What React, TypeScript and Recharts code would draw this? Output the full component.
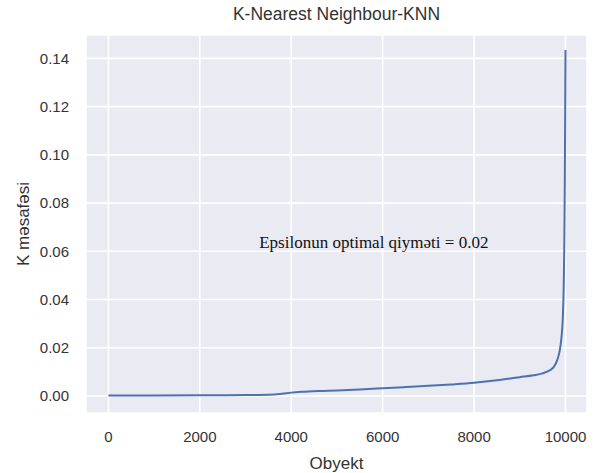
import { LineChart, Line, XAxis, YAxis, CartesianGrid, ReferenceDot } from 'recharts'

// sorted k-distance curve
const objectIndex = [
  0, 1000, 2000, 3000, 3500, 3800, 4000, 4300, 4600, 5000, 5500, 6000, 6500, 7000, 7500, 8000,
  8500, 9000, 9300, 9500, 9650, 9750, 9820, 9870, 9910, 9940, 9960, 9975, 9985, 9992, 9997, 10000,
]
const kDistance = [
  0.0002, 0.0002, 0.0003, 0.0004, 0.0005, 0.0009, 0.0014, 0.0018, 0.0021, 0.0023, 0.0027,
  0.0032, 0.0037, 0.0042, 0.0048, 0.0055, 0.0065, 0.0078, 0.0086, 0.0094, 0.0106, 0.0122,
  0.015, 0.0185, 0.024, 0.032, 0.045, 0.065, 0.09, 0.115, 0.135, 0.1435,
]
const xTicks = [0, 2000, 4000, 6000, 8000, 10000]
const yTicks = [0, 0.02, 0.04, 0.06, 0.08, 0.1, 0.12, 0.14]
const annotation = { x: 3300, y: 0.0612, text: 'Epsilonun optimal qiyməti = 0.02' }

const data = objectIndex.map((x, i) => ({ x, k: kDistance[i] }))

const W = 595
const H = 473
const sans = '"Liberation Sans", Arial, sans-serif'
const textColor = '#333'

function AnnotationText(props: { cx?: number; cy?: number }) {
  const { cx = 0, cy = 0 } = props
  return (
    <text x={cx} y={cy} fill="#111" fontSize={17} fontFamily='"Liberation Serif", serif'>
      {annotation.text}
    </text>
  )
}

export default function App() {
  return (
    <div style={{ position: 'absolute', left: 0, top: 0, width: W, height: H, background: '#fff' }}>
      <div
        style={{
          position: 'absolute',
          left: 86,
          width: 501,
          top: 4,
          textAlign: 'center',
          fontFamily: sans,
          fontSize: 17.5,
          color: textColor,
        }}
      >
        K-Nearest Neighbour-KNN
      </div>
      <LineChart
        width={W}
        height={H}
        data={data}
        margin={{ top: 35, right: 8, bottom: 0, left: 0 }}
      >
        <CartesianGrid fill="#EAEAF2" stroke="#fff" strokeWidth={1.6} />
        <XAxis
          dataKey="x"
          type="number"
          domain={[-490, 10470]}
          ticks={xTicks}
          allowDataOverflow
          axisLine={false}
          tickLine={false}
          tickSize={0}
          tickMargin={18}
          height={60}
          tick={{ fill: textColor, fontSize: 15, fontFamily: sans }}
          label={{
            value: 'Obyekt',
            position: 'insideBottom',
            offset: 4,
            fill: textColor,
            fontSize: 17,
            fontFamily: sans,
          }}
        />
        <YAxis
          type="number"
          domain={[-0.00705, 0.1497]}
          ticks={yTicks}
          allowDataOverflow
          axisLine={false}
          tickLine={false}
          tickSize={0}
          tickMargin={17}
          width={86}
          tickFormatter={(v: number) => v.toFixed(2)}
          tick={{ fill: textColor, fontSize: 15, fontFamily: sans }}
          label={{
            value: 'K məsafəsi',
            angle: -90,
            position: 'insideLeft',
            offset: 0,
            fill: textColor,
            fontSize: 17,
            fontFamily: sans,
            style: { textAnchor: 'middle' },
            dx: 23,
          }}
        />
        <Line
          type="monotone"
          dataKey="k"
          stroke="#4C72B0"
          strokeWidth={2}
          dot={false}
          isAnimationActive={false}
        />
        <ReferenceDot
          x={annotation.x}
          y={annotation.y}
          r={0}
          shape={(p: any) => <AnnotationText cx={p.cx} cy={p.cy} />}
        />
      </LineChart>
    </div>
  )
}
